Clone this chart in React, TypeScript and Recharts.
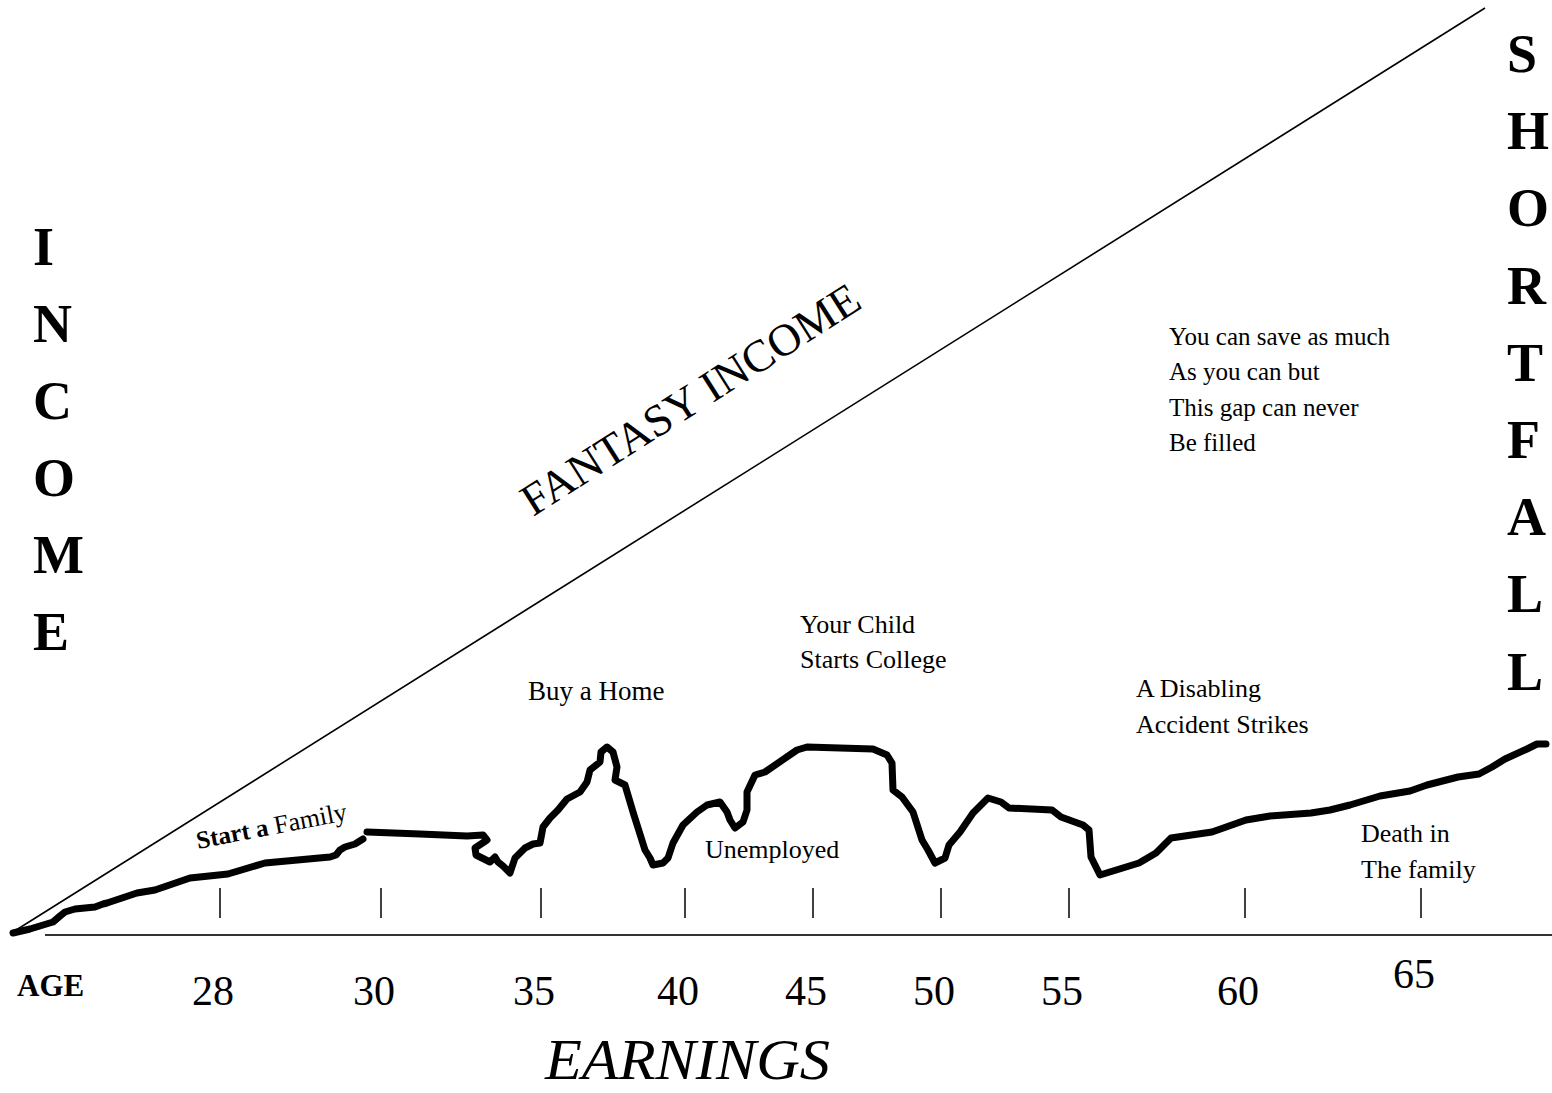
import React from 'react'
import { LineChart, Line, XAxis, YAxis, ReferenceLine } from 'recharts'

// horizontal position along the timeline (same units as the axis) and income above the baseline
const earningsPos = [
  13, 30, 53, 60, 65, 75, 95, 103, 107, 137, 155, 190, 228, 265, 330, 336, 340, 345, 355, 363,
  366,
  367, 420, 467, 483, 487, 475, 476, 482, 490, 495, 498, 503, 510, 515, 525, 533, 540, 543, 550,
  558, 567, 580, 587, 590, 600, 601, 607, 613, 617, 615, 625, 633, 645, 650, 653, 663, 668, 673,
  683, 697, 707, 720, 727, 730, 735, 743, 747, 747, 755, 765, 797, 807, 873, 887, 892, 893, 902,
  913, 922, 928, 935, 945, 949, 960, 973, 988, 1001, 1009, 1052, 1061, 1083, 1089, 1091, 1100,
  1139, 1156, 1171, 1212, 1246, 1270, 1311, 1330, 1350, 1380, 1410, 1427, 1458, 1479, 1492, 1505,
  1527, 1537, 1546,
]
const earningsIncome: (number | null)[] = [
  2, 6, 13, 19, 23, 26, 28, 31, 32, 42, 45, 57, 61, 72, 78, 80, 85, 88, 91, 96,
  null,
  103, 101, 99, 100, 95, 87, 80, 77, 73, 78, 73, 69, 62, 77, 87, 91, 92, 108, 117,
  125, 136, 143, 153, 165, 173, 183, 188, 183, 168, 155, 150, 123, 85, 77, 70, 72, 77, 92,
  110, 123, 130, 133, 123, 115, 107, 113, 125, 143, 160, 163, 185, 188, 186, 180, 172, 145, 138,
  123, 95, 85, 72, 77, 90, 103, 122, 137, 133, 127, 125, 118, 110, 105, 78, 60,
  72, 82, 97, 103, 115, 119, 122, 125, 130, 139, 144, 150, 158, 161, 168, 176,
  186, 191, 191,
]

const fantasyPos = [13, 1485]
const fantasyIncome = [3, 927]

const ageTicks = [220, 381, 541, 685, 813, 941, 1069, 1245, 1421]
const ageLabels = ['28', '30', '35', '40', '45', '50', '55', '60', '65']

const incomeLetters = ['I', 'N', 'C', 'O', 'M', 'E']
const shortfallLetters = ['S', 'H', 'O', 'R', 'T', 'F', 'A', 'L', 'L']
const gapLines = ['You can save as much', 'As you can but', 'This gap can never', 'Be filled']

const earningsData = earningsPos.map((x, i) => ({ x, income: earningsIncome[i] }))
const fantasyData = fantasyPos.map((x, i) => ({ x, income: fantasyIncome[i] }))

const FONT = "'Liberation Serif', 'Times New Roman', serif"

function AgeTick(props: any) {
  const { x, y, payload, index } = props
  const labelY = ageLabels[index] === '65' ? y + 53 : y + 70
  return (
    <g>
      <line x1={x} x2={x} y1={y - 47} y2={y - 17} stroke="#000" strokeWidth={1.5} />
      <text x={x - 7} y={labelY} textAnchor="middle" fontFamily={FONT} fontSize={42} fill="#000">
        {ageLabels[ageTicks.indexOf(payload.value)]}
      </text>
    </g>
  )
}

export default function App() {
  return (
    <div style={{ position: 'absolute', left: 0, top: 0, width: 1552, height: 1093, background: '#fff' }}>
      <LineChart width={1552} height={1093} margin={{ top: 0, right: 0, bottom: 0, left: 0 }}>
        <XAxis
          type="number"
          dataKey="x"
          domain={[0, 1552]}
          ticks={ageTicks}
          interval={0}
          height={158}
          axisLine={false}
          tickLine={false}
          tickSize={0}
          tickMargin={0}
          tick={<AgeTick />}
          allowDuplicatedCategory={false}
        />
        <YAxis type="number" domain={[0, 935]} hide />
        <ReferenceLine
          segment={[{ x: 45, y: 0 }, { x: 1552, y: 0 }]}
          stroke="#333"
          strokeWidth={2}
          ifOverflow="visible"
        />
        <Line
          data={fantasyData}
          dataKey="income"
          type="linear"
          stroke="#000"
          strokeWidth={1.6}
          dot={false}
          activeDot={false}
          isAnimationActive={false}
        />
        <Line
          data={earningsData}
          dataKey="income"
          type="linear"
          stroke="#000"
          strokeWidth={7}
          strokeLinejoin="round"
          strokeLinecap="round"
          connectNulls={false}
          dot={false}
          activeDot={false}
          isAnimationActive={false}
        />

        <g fontFamily={FONT} fill="#000">
          {incomeLetters.map((ch, i) => (
            <text key={'in' + i} x={33} y={265 + i * 77} fontSize={54} fontWeight="bold">{ch}</text>
          ))}
          {shortfallLetters.map((ch, i) => (
            <text key={'sf' + i} x={1507} y={72 + i * 77.2} fontSize={54} fontWeight="bold">{ch}</text>
          ))}
          <text x={533} y={517} fontSize={45} transform="rotate(-32.4 533 517)" textLength={392} lengthAdjust="spacingAndGlyphs">
            FANTASY INCOME
          </text>
          {gapLines.map((t, i) => (
            <text key={'gl' + i} x={1169} y={345 + i * 35.3} fontSize={25}>{t}</text>
          ))}
          <text x={198} y={849} transform="rotate(-11 198 849)">
            <tspan fontSize={25} fontWeight="bold">Start a </tspan>
            <tspan fontSize={26}>Family</tspan>
          </text>
          <text x={528} y={700} fontSize={27}>Buy a Home</text>
          <text x={800} y={633} fontSize={26}>Your Child</text>
          <text x={800} y={668} fontSize={26}>Starts College</text>
          <text x={705} y={858} fontSize={26}>Unemployed</text>
          <text x={1136} y={697} fontSize={26}>A Disabling</text>
          <text x={1136} y={733} fontSize={26}>Accident Strikes</text>
          <text x={1361} y={842} fontSize={26}>Death in</text>
          <text x={1361} y={878} fontSize={26}>The family</text>
          <text x={17} y={996} fontSize={31} fontWeight="bold">AGE</text>
          <text x={545} y={1079} fontSize={58} fontStyle="italic" textLength={285} lengthAdjust="spacingAndGlyphs">
            EARNINGS
          </text>
        </g>
      </LineChart>
    </div>
  )
}
